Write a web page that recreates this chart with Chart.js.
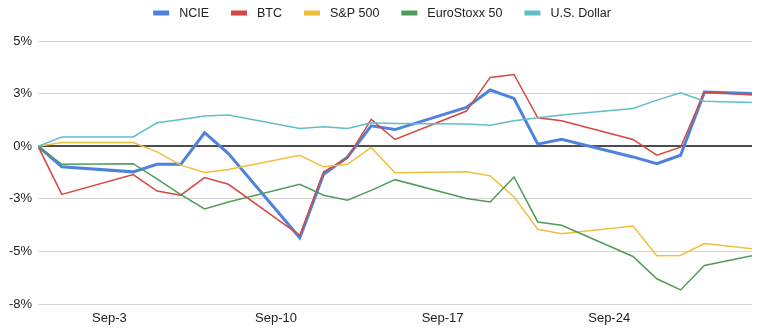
<!DOCTYPE html>
<html>
<head>
<meta charset="utf-8">
<script src="https://cdn.jsdelivr.net/npm/chart.js@4/dist/chart.umd.min.js"></script>
<style>
  html, body { margin: 0; padding: 0; background: #ffffff; }
  #wrap { width: 764px; height: 334px; }
</style>
</head>
<body>
<div id="wrap"><canvas id="c" width="764" height="334"></canvas></div>
<script>
// ---- data (percent change) ----
const dates = ['2023-08-31','2023-09-01','2023-09-04','2023-09-05','2023-09-06','2023-09-07','2023-09-08',
  '2023-09-11','2023-09-12','2023-09-13','2023-09-14','2023-09-15',
  '2023-09-18','2023-09-19','2023-09-20','2023-09-21','2023-09-22',
  '2023-09-25','2023-09-26','2023-09-27','2023-09-28','2023-09-30'];
const seriesNames = ['NCIE', 'BTC', 'S&P 500', 'EuroStoxx 50', 'U.S. Dollar'];
const ncie  = [0, -0.98, -1.22, -0.86, -0.86, 0.64, -0.35, -4.35, -1.33, -0.52, 0.97, 0.79, 1.84, 2.67, 2.27, 0.10, 0.33, -0.51, -0.83, -0.43, 2.57, 2.50];
const btc   = [0, -2.29, -1.35, -2.13, -2.33, -1.49, -1.81, -4.24, -1.22, -0.57, 1.27, 0.32, 1.67, 3.27, 3.41, 1.35, 1.21, 0.32, -0.43, -0.05, 2.59, 2.43];
const spx   = [0, 0.17, 0.17, -0.27, -0.90, -1.25, -1.11, -0.43, -0.98, -0.86, -0.06, -1.26, -1.21, -1.41, -2.41, -3.95, -4.16, -3.79, -5.21, -5.19, -4.63, -4.87];
const stoxx = [0, -0.86, -0.83, -1.55, -2.30, -2.98, -2.65, -1.81, -2.33, -2.57, -2.10, -1.59, -2.49, -2.65, -1.46, -3.60, -3.76, -5.24, -6.30, -6.83, -5.67, -5.21];
const usd   = [0, 0.44, 0.44, 1.11, 1.27, 1.43, 1.48, 0.84, 0.92, 0.84, 1.11, 1.08, 1.05, 1.00, 1.21, 1.35, 1.48, 1.79, 2.19, 2.54, 2.14, 2.08];
const xTickDates = ['2023-09-03', '2023-09-10', '2023-09-17', '2023-09-24'];
const xStart = '2023-08-31', xEnd = '2023-09-30';
const yTicks = [-7.5, -5, -2.5, 0, 2.5, 5];

// ---- helpers ----
const DAY = 86400000;
const dayNum = s => Math.round((Date.parse(s + 'T00:00:00Z') - Date.parse(xStart + 'T00:00:00Z')) / DAY);
const MONTHS = ['Jan','Feb','Mar','Apr','May','Jun','Jul','Aug','Sep','Oct','Nov','Dec'];
const fmtDay = n => { const d = new Date(Date.parse(xStart + 'T00:00:00Z') + n * DAY); return MONTHS[d.getUTCMonth()] + '-' + d.getUTCDate(); };
const toPts = arr => arr.map((v, i) => ({ x: dayNum(dates[i]), y: v }));

const colors = ['#4f82dc', '#d4483f', '#f2bd3a', '#4f9b5a', '#5fbec6'];
const widths = [3, 1.5, 1.5, 1.5, 1.5];
const values = [ncie, btc, spx, stoxx, usd];
const FONT = '"Liberation Sans", Arial, sans-serif';

const legendPlugin = {
  id: 'topLegend',
  afterDraw(chart) {
    const ctx = chart.ctx;
    ctx.save();
    ctx.font = '12.5px ' + FONT;
    const boxW = 16, boxH = 5, gap = 10, spacing = 22;
    const items = chart.data.datasets.map(ds => ({ text: ds.label, color: ds.borderColor, w: ctx.measureText(ds.label).width }));
    let total = items.reduce((s, it) => s + boxW + gap + it.w, 0) + spacing * (items.length - 1);
    let x = (chart.width - total) / 2;
    const yc = 13;
    ctx.textBaseline = 'middle';
    ctx.textAlign = 'left';
    items.forEach(it => {
      ctx.fillStyle = it.color;
      ctx.fillRect(x, yc - boxH / 2, boxW, boxH);
      x += boxW + gap;
      ctx.fillStyle = '#222';
      ctx.fillText(it.text, x, yc + 1);
      x += it.w + spacing;
    });
    ctx.restore();
  }
};

new Chart(document.getElementById('c'), {
  type: 'line',
  data: {
    datasets: seriesNames.map((name, i) => ({
      label: name,
      data: toPts(values[i]),
      borderColor: colors[i],
      backgroundColor: colors[i],
      borderWidth: widths[i],
      pointRadius: 0,
      tension: 0,
      fill: false,
      order: seriesNames.length - 1 - i
    }))
  },
  options: {
    responsive: false,
    animation: false,
    devicePixelRatio: 1,
    layout: { padding: { top: 41, right: 12, left: 0, bottom: 0 } },
    plugins: { legend: { display: false }, tooltip: { enabled: false } },
    scales: {
      x: {
        type: 'linear',
        min: dayNum(xStart),
        max: dayNum(xEnd),
        grid: { display: false, drawTicks: false },
        border: { display: false },
        afterBuildTicks: s => { s.ticks = xTickDates.map(d => ({ value: dayNum(d) })); },
        afterFit: s => { s.height = 30; },
        ticks: {
          padding: 7,
          autoSkip: false,
          maxRotation: 0,
          color: '#222',
          font: { family: FONT, size: 13 },
          callback: v => fmtDay(v)
        }
      },
      y: {
        min: -7.5,
        max: 5,
        afterBuildTicks: s => { s.ticks = yTicks.map(v => ({ value: v })); },
        afterFit: s => { s.width = 38; },
        border: { display: false },
        grid: {
          drawTicks: false,
          color: c => c.tick && c.tick.value === 0 ? '#4d4d4d' : '#d4d4d4',
          lineWidth: c => c.tick && c.tick.value === 0 ? 2 : 1
        },
        ticks: {
          padding: 6,
          color: '#222',
          font: { family: FONT, size: 13 },
          callback: v => (v < 0 ? '-' : '') + Math.round(Math.abs(v)) + '%'
        }
      }
    }
  },
  plugins: [legendPlugin]
});
</script>
</body>
</html>
